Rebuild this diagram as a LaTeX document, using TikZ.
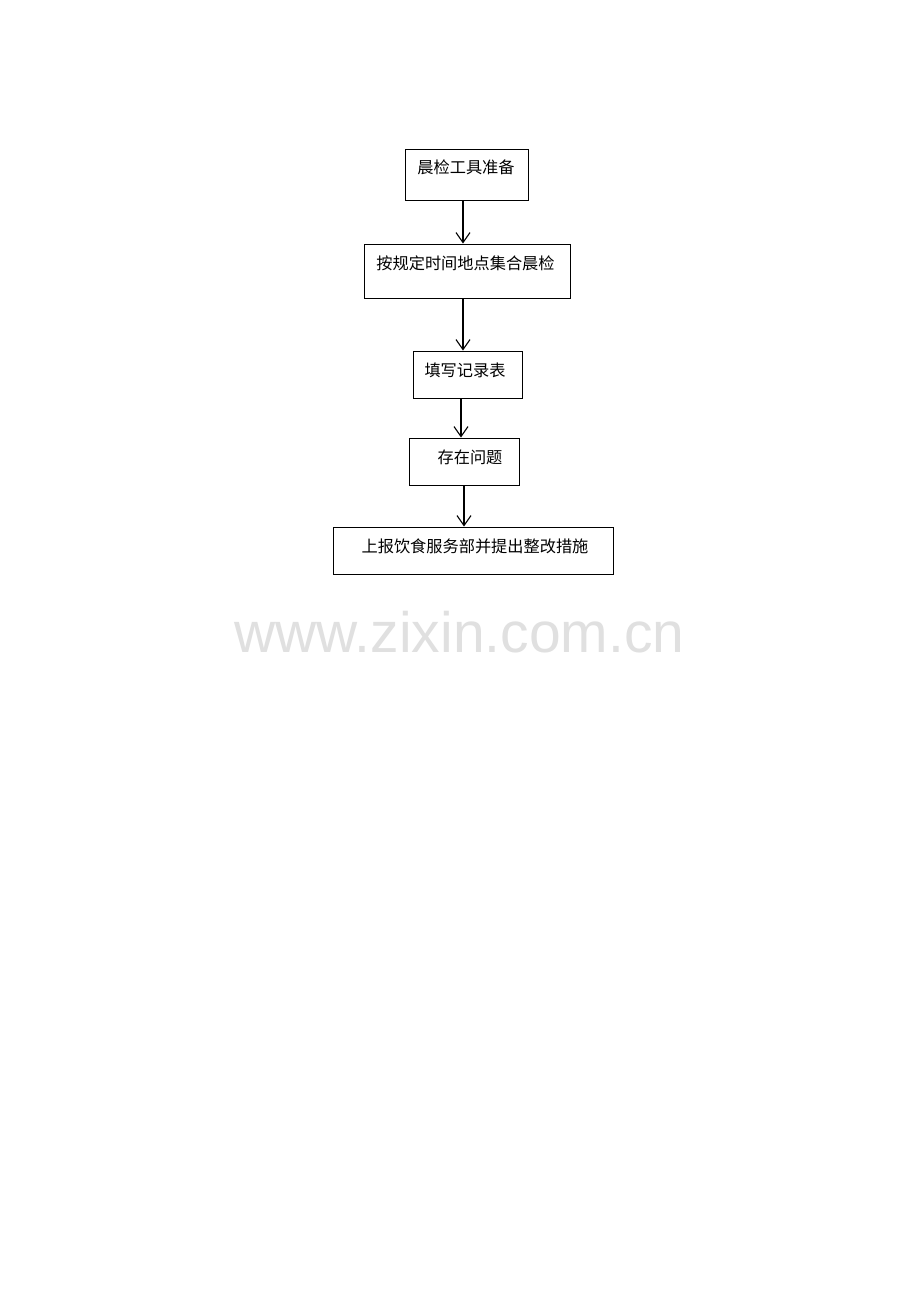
\documentclass[tikz,border=0pt]{standalone}
\usepackage{fontspec}
\newfontfamily\cjk{Noto Sans CJK SC}
\newfontfamily\wmfont{Liberation Sans}
\usetikzlibrary{arrows.meta}
\begin{document}
\begin{tikzpicture}[x=1pt,y=-1pt,
  box/.style={draw=black,line width=1pt,minimum width=#1,inner sep=0pt},
  lbl/.style={font=\cjk\fontsize{16.2}{17}\selectfont,inner sep=0pt,anchor=center},
  flow/.style={draw=black,line width=1.1pt,-{Straight Barb[length=10pt,width=14pt,line width=1.1pt]}}]
\useasboundingbox (0,0) rectangle (920,1302);
\fill[white] (0,0) rectangle (920,1302);
% boxes
\node[box=123pt,minimum height=51pt] (b1) at (466.5,174.5) {};
\node[box=206pt,minimum height=54pt] (b2) at (467,271) {};
\node[box=109pt,minimum height=47pt] (b3) at (467.5,374.5) {};
\node[box=110pt,minimum height=47pt] (b4) at (464,461.5) {};
\node[box=280pt,minimum height=47pt] (b5) at (473,550.5) {};
% texts
\node[lbl] (t1) at (466,167) {晨检工具准备};
\node[lbl] (t2) at (465.5,263) {按规定时间地点集合晨检};
\node[lbl] (t3) at (465,370) {填写记录表};
\node[lbl] (t4) at (470,457) {存在问题};
\node[lbl] (t5) at (475,546) {上报饮食服务部并提出整改措施};
% connectors
\draw[flow] (b1.south -| 463,0) -- (b2.north -| 463,0);
\draw[flow] (b2.south -| 463,0) -- (b3.north -| 463,0);
\draw[flow] (b3.south -| 461,0) -- (b4.north -| 461,0);
\draw[flow] (b4.south -| 464,0) -- (b5.north -| 464,0);
% watermark
\node[font=\wmfont\fontsize{57}{57}\selectfont,text=black!12,inner sep=0pt,anchor=base] (wm) at (459.5,652) {www.zixin.com.cn};
\end{tikzpicture}
\end{document}
